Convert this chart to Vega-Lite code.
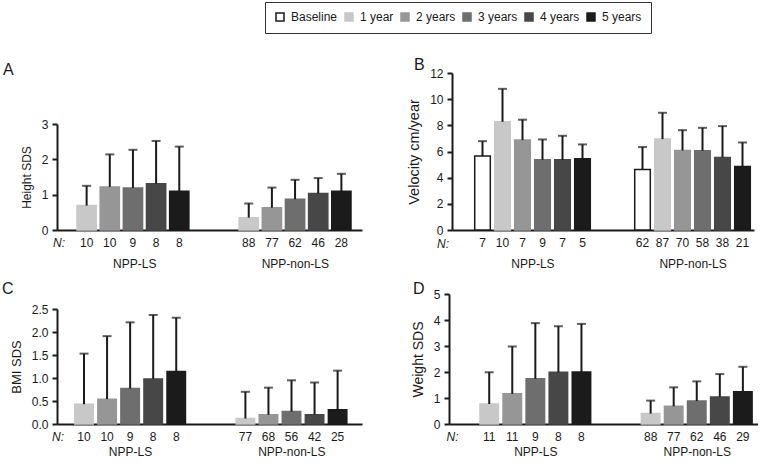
{
  "$schema": "https://vega.github.io/schema/vega-lite/v6.json",
  "padding": {"left": 2, "top": 1, "right": 0, "bottom": 0},
  "background": "white",
  "datasets": {
    "A": [
      {"group": "NPP-LS", "year": "1 year", "key": "LS1:10", "mean": 0.69, "upper": 1.25},
      {"group": "NPP-LS", "year": "2 years", "key": "LS2:10", "mean": 1.22, "upper": 2.14},
      {"group": "NPP-LS", "year": "3 years", "key": "LS3:9", "mean": 1.19, "upper": 2.27},
      {"group": "NPP-LS", "year": "4 years", "key": "LS4:8", "mean": 1.31, "upper": 2.52},
      {"group": "NPP-LS", "year": "5 years", "key": "LS5:8", "mean": 1.10, "upper": 2.36},
      {"group": "NPP-non-LS", "year": "1 year", "key": "NL1:88", "mean": 0.35, "upper": 0.75},
      {"group": "NPP-non-LS", "year": "2 years", "key": "NL2:77", "mean": 0.63, "upper": 1.20},
      {"group": "NPP-non-LS", "year": "3 years", "key": "NL3:62", "mean": 0.87, "upper": 1.42},
      {"group": "NPP-non-LS", "year": "4 years", "key": "NL4:46", "mean": 1.03, "upper": 1.47},
      {"group": "NPP-non-LS", "year": "5 years", "key": "NL5:28", "mean": 1.10, "upper": 1.59}
    ],
    "B": [
      {"group": "NPP-LS", "year": "Baseline", "key": "LS0:7", "mean": 5.65, "upper": 6.79},
      {"group": "NPP-LS", "year": "1 year", "key": "LS1:10", "mean": 8.27, "upper": 10.79},
      {"group": "NPP-LS", "year": "2 years", "key": "LS2:7", "mean": 6.87, "upper": 8.43},
      {"group": "NPP-LS", "year": "3 years", "key": "LS3:9", "mean": 5.37, "upper": 6.92},
      {"group": "NPP-LS", "year": "4 years", "key": "LS4:7", "mean": 5.37, "upper": 7.20},
      {"group": "NPP-LS", "year": "5 years", "key": "LS5:5", "mean": 5.45, "upper": 6.54},
      {"group": "NPP-non-LS", "year": "Baseline", "key": "NL0:62", "mean": 4.63, "upper": 6.34},
      {"group": "NPP-non-LS", "year": "1 year", "key": "NL1:87", "mean": 6.95, "upper": 8.96},
      {"group": "NPP-non-LS", "year": "2 years", "key": "NL2:70", "mean": 6.08, "upper": 7.63},
      {"group": "NPP-non-LS", "year": "3 years", "key": "NL3:58", "mean": 6.06, "upper": 7.81},
      {"group": "NPP-non-LS", "year": "4 years", "key": "NL4:38", "mean": 5.55, "upper": 7.94},
      {"group": "NPP-non-LS", "year": "5 years", "key": "NL5:21", "mean": 4.86, "upper": 6.69}
    ],
    "C": [
      {"group": "NPP-LS", "year": "1 year", "key": "LS1:10", "mean": 0.43, "upper": 1.53},
      {"group": "NPP-LS", "year": "2 years", "key": "LS2:10", "mean": 0.54, "upper": 1.91},
      {"group": "NPP-LS", "year": "3 years", "key": "LS3:9", "mean": 0.77, "upper": 2.21},
      {"group": "NPP-LS", "year": "4 years", "key": "LS4:8", "mean": 0.98, "upper": 2.37},
      {"group": "NPP-LS", "year": "5 years", "key": "LS5:8", "mean": 1.14, "upper": 2.31},
      {"group": "NPP-non-LS", "year": "1 year", "key": "NL1:77", "mean": 0.12, "upper": 0.70},
      {"group": "NPP-non-LS", "year": "2 years", "key": "NL2:68", "mean": 0.20, "upper": 0.79},
      {"group": "NPP-non-LS", "year": "3 years", "key": "NL3:56", "mean": 0.27, "upper": 0.95},
      {"group": "NPP-non-LS", "year": "4 years", "key": "NL4:42", "mean": 0.20, "upper": 0.90},
      {"group": "NPP-non-LS", "year": "5 years", "key": "NL5:25", "mean": 0.31, "upper": 1.16}
    ],
    "D": [
      {"group": "NPP-LS", "year": "1 year", "key": "LS1:11", "mean": 0.77, "upper": 1.99},
      {"group": "NPP-LS", "year": "2 years", "key": "LS2:11", "mean": 1.16, "upper": 2.98},
      {"group": "NPP-LS", "year": "3 years", "key": "LS3:9", "mean": 1.74, "upper": 3.88},
      {"group": "NPP-LS", "year": "4 years", "key": "LS4:8", "mean": 1.99, "upper": 3.76},
      {"group": "NPP-LS", "year": "5 years", "key": "LS5:8", "mean": 2.00, "upper": 3.85},
      {"group": "NPP-non-LS", "year": "1 year", "key": "NL1:88", "mean": 0.40, "upper": 0.90},
      {"group": "NPP-non-LS", "year": "2 years", "key": "NL2:77", "mean": 0.68, "upper": 1.41},
      {"group": "NPP-non-LS", "year": "3 years", "key": "NL3:62", "mean": 0.88, "upper": 1.64},
      {"group": "NPP-non-LS", "year": "4 years", "key": "NL4:46", "mean": 1.04, "upper": 1.92},
      {"group": "NPP-non-LS", "year": "5 years", "key": "NL5:29", "mean": 1.24, "upper": 2.20}
    ]
  },
  "config": {
    "view": {"stroke": null},
    "font": "Liberation Sans",
    "axis": {
      "domainColor": "#1a1a1a", "domainWidth": 2, "tickColor": "#1a1a1a", "tickWidth": 2, "tickSize": 5,
      "labelColor": "#1a1a1a", "titleColor": "#1a1a1a", "labelFontSize": 12, "titleFontSize": 13,
      "titleFontWeight": "normal", "grid": false, "labelFont": "Liberation Sans", "titleFont": "Liberation Sans", "labelPadding": 4, "titlePadding": 8, "labelOverlap": false
    },
    "title": {"fontSize": 16, "fontWeight": "normal", "anchor": "start", "frame": "group", "color": "#1a1a1a", "font": "Liberation Sans"},
    "legend": {
      "symbolType": "square", "symbolSize": 64, "symbolStrokeWidth": 1.5, "labelFontSize": 12, "labelColor": "#1a1a1a",
      "columnPadding": 4, "labelOffset": 5, "strokeColor": "#333333", "padding": 9, "labelFont": "Liberation Sans"
    }
  },
  "spacing": 10,
  "vconcat": [
    {
      "spacing": 44,
      "hconcat": [
        {
          "width": 305, "height": 157,
          "title": {"text": "A", "dx": -54, "offset": -5},
          "data": {"name": "A"},
          "layer": [
            {"layer": [
              {"mark": {"type": "bar", "strokeWidth": 1.5},
               "encoding": {
                 "x": {"field": "key", "type": "nominal",
                       "scale": {"domain": ["LS1:10", "LS2:10", "LS3:9", "LS4:8", "LS5:8", "g1", "g2", "NL1:88", "NL2:77", "NL3:62", "NL4:46", "NL5:28"], "paddingInner": 0.17, "paddingOuter": 0.67, "align": 0.645},
                       "axis": {"orient": "bottom", "title": "N:", "titleFontStyle": "italic", "titleFontSize": 12, "titleX": 1.5, "titleY": 7, "titleAlign": "center", "titleBaseline": "top", "labelExpr": "indexof(datum.value, ':') >= 0 ? split(datum.value, ':')[1] : ''", "ticks": false, "tickSize": 0, "labelPadding": 7, "labelAngle": 0, "labelOverlap": false}},
                 "y": {"field": "mean", "type": "quantitative", "title": "Height SDS", "scale": {"domain": [0, 3], "range": [157, 51], "nice": false}, "axis": {"values": [0, 1, 2, 3], "tickCount": 20, "format": "d", "titleFontSize": 12, "labelOverlap": false}},
                 "color": {"field": "year", "type": "nominal", "scale": {"domain": ["Baseline", "1 year", "2 years", "3 years", "4 years", "5 years"], "range": ["#ffffff", "#c8c8c8", "#969696", "#6e6e6e", "#474747", "#1b1b1b"]}, "legend": {"orient": "none", "legendX": 208, "legendY": -71, "direction": "horizontal", "title": null}},
                 "stroke": {"field": "year", "type": "nominal", "scale": {"domain": ["Baseline", "1 year", "2 years", "3 years", "4 years", "5 years"], "range": ["#1a1a1a", "#c8c8c8", "#969696", "#6e6e6e", "#474747", "#1b1b1b"]}, "legend": {"orient": "none", "legendX": 208, "legendY": -71, "direction": "horizontal", "title": null}}
               }},
              {"mark": {"type": "rule", "strokeWidth": 2, "color": "#1a1a1a"},
               "encoding": {"x": {"field": "key", "type": "nominal"}, "y": {"field": "mean", "type": "quantitative", "title": "Height SDS"}, "y2": {"field": "upper"}}},
              {"mark": {"type": "tick", "thickness": 2, "size": 9, "color": "#1a1a1a", "orient": "horizontal"},
               "encoding": {"x": {"field": "key", "type": "nominal"}, "y": {"field": "upper", "type": "quantitative", "title": "Height SDS"}}}
            ]},
            {"mark": {"type": "rule", "opacity": 0},
             "encoding": {"x": {"field": "group", "type": "nominal", "scale": {"type": "point", "padding": 0.45, "align": 0.535},
                                "axis": {"orient": "bottom", "title": null, "domain": false, "ticks": false, "tickSize": 0, "labelPadding": 28.5, "labelAngle": 0}}}}
          ],
          "resolve": {"scale": {"x": "independent"}}
        },
        {
          "width": 302, "height": 157,
          "title": {"text": "B", "dx": -38, "offset": -6},
          "data": {"name": "B"},
          "layer": [
            {"layer": [
              {"mark": {"type": "bar", "strokeWidth": 1.5},
               "encoding": {
                 "x": {"field": "key", "type": "nominal",
                       "scale": {"domain": ["LS0:7", "LS1:10", "LS2:7", "LS3:9", "LS4:7", "LS5:5", "g1", "g2", "NL0:62", "NL1:87", "NL2:70", "NL3:58", "NL4:38", "NL5:21"], "paddingInner": 0.22, "paddingOuter": 0.66, "align": 0.86},
                       "axis": {"orient": "bottom", "title": "N:", "titleFontStyle": "italic", "titleFontSize": 12, "titleX": -9.5, "titleY": 8, "titleAlign": "center", "titleBaseline": "top", "labelExpr": "indexof(datum.value, ':') >= 0 ? split(datum.value, ':')[1] : ''", "ticks": false, "tickSize": 0, "labelPadding": 7, "labelAngle": 0, "labelOverlap": false}},
                 "y": {"field": "mean", "type": "quantitative", "title": "Velocity cm/year", "scale": {"domain": [0, 12], "nice": false}, "axis": {"values": [0, 2, 4, 6, 8, 10, 12], "tickCount": 20, "format": "d", "titleFontSize": 14.5, "labelOverlap": false}},
                 "color": {"field": "year", "type": "nominal", "scale": {"domain": ["Baseline", "1 year", "2 years", "3 years", "4 years", "5 years"], "range": ["#ffffff", "#c8c8c8", "#969696", "#6e6e6e", "#474747", "#1b1b1b"]}, "legend": {"orient": "none", "legendX": 208, "legendY": -71, "direction": "horizontal", "title": null}},
                 "stroke": {"field": "year", "type": "nominal", "scale": {"domain": ["Baseline", "1 year", "2 years", "3 years", "4 years", "5 years"], "range": ["#1a1a1a", "#c8c8c8", "#969696", "#6e6e6e", "#474747", "#1b1b1b"]}, "legend": {"orient": "none", "legendX": 208, "legendY": -71, "direction": "horizontal", "title": null}}
               }},
              {"mark": {"type": "rule", "strokeWidth": 2, "color": "#1a1a1a"},
               "encoding": {"x": {"field": "key", "type": "nominal"}, "y": {"field": "mean", "type": "quantitative", "title": "Velocity cm/year"}, "y2": {"field": "upper"}}},
              {"mark": {"type": "tick", "thickness": 2, "size": 9, "color": "#1a1a1a", "orient": "horizontal"},
               "encoding": {"x": {"field": "key", "type": "nominal"}, "y": {"field": "upper", "type": "quantitative", "title": "Velocity cm/year"}}}
            ]},
            {"mark": {"type": "rule", "opacity": 0},
             "encoding": {"x": {"field": "group", "type": "nominal", "scale": {"type": "point", "padding": 0.443, "align": 0.567},
                                "axis": {"orient": "bottom", "title": null, "domain": false, "ticks": false, "tickSize": 0, "labelPadding": 28.5, "labelAngle": 0}}}}
          ],
          "resolve": {"scale": {"x": "independent"}}
        }
      ]
    },
    {
      "spacing": 49,
      "hconcat": [
        {
          "width": 305, "height": 130,
          "title": {"text": "C", "dx": -55, "offset": -2.5},
          "data": {"name": "C"},
          "layer": [
            {"layer": [
              {"mark": {"type": "bar", "strokeWidth": 1.5},
               "encoding": {
                 "x": {"field": "key", "type": "nominal",
                       "scale": {"domain": ["LS1:10", "LS2:10", "LS3:9", "LS4:8", "LS5:8", "g1", "g2", "NL1:77", "NL2:68", "NL3:56", "NL4:42", "NL5:25"], "paddingInner": 0.2, "paddingOuter": 0.715, "align": 0.54},
                       "axis": {"orient": "bottom", "title": "N:", "titleFontStyle": "italic", "titleFontSize": 12, "titleX": 0.5, "titleY": 7, "titleAlign": "center", "titleBaseline": "top", "labelExpr": "indexof(datum.value, ':') >= 0 ? split(datum.value, ':')[1] : ''", "ticks": false, "tickSize": 0, "labelPadding": 7, "labelAngle": 0, "labelOverlap": false}},
                 "y": {"field": "mean", "type": "quantitative", "title": "BMI SDS", "scale": {"domain": [0, 2.5], "range": [130, 15], "nice": false}, "axis": {"values": [0, 0.5, 1, 1.5, 2, 2.5], "tickCount": 20, "format": ".1f", "titleFontSize": 13, "labelOverlap": false}},
                 "color": {"field": "year", "type": "nominal", "scale": {"domain": ["Baseline", "1 year", "2 years", "3 years", "4 years", "5 years"], "range": ["#ffffff", "#c8c8c8", "#969696", "#6e6e6e", "#474747", "#1b1b1b"]}, "legend": {"orient": "none", "legendX": 208, "legendY": -71, "direction": "horizontal", "title": null}},
                 "stroke": {"field": "year", "type": "nominal", "scale": {"domain": ["Baseline", "1 year", "2 years", "3 years", "4 years", "5 years"], "range": ["#1a1a1a", "#c8c8c8", "#969696", "#6e6e6e", "#474747", "#1b1b1b"]}, "legend": {"orient": "none", "legendX": 208, "legendY": -71, "direction": "horizontal", "title": null}}
               }},
              {"mark": {"type": "rule", "strokeWidth": 2, "color": "#1a1a1a"},
               "encoding": {"x": {"field": "key", "type": "nominal"}, "y": {"field": "mean", "type": "quantitative", "title": "BMI SDS"}, "y2": {"field": "upper"}}},
              {"mark": {"type": "tick", "thickness": 2, "size": 9, "color": "#1a1a1a", "orient": "horizontal"},
               "encoding": {"x": {"field": "key", "type": "nominal"}, "y": {"field": "upper", "type": "quantitative", "title": "BMI SDS"}}}
            ]},
            {"mark": {"type": "rule", "opacity": 0},
             "encoding": {"x": {"field": "group", "type": "nominal", "scale": {"type": "point", "padding": 0.445, "align": 0.508},
                                "axis": {"orient": "bottom", "title": null, "domain": false, "ticks": false, "tickSize": 0, "labelPadding": 22, "labelAngle": 0}}}}
          ],
          "resolve": {"scale": {"x": "independent"}}
        },
        {
          "width": 309, "height": 130,
          "title": {"text": "D", "dx": -36, "offset": -9},
          "data": {"name": "D"},
          "layer": [
            {"layer": [
              {"mark": {"type": "bar", "strokeWidth": 1.5},
               "encoding": {
                 "x": {"field": "key", "type": "nominal",
                       "scale": {"domain": ["LS1:11", "LS2:11", "LS3:9", "LS4:8", "LS5:8", "g1", "g2", "NL1:88", "NL2:77", "NL3:62", "NL4:46", "NL5:29"], "paddingInner": 0.2, "paddingOuter": 0.8, "align": 0.84},
                       "axis": {"orient": "bottom", "title": "N:", "titleFontStyle": "italic", "titleFontSize": 12, "titleX": 3, "titleY": 7, "titleAlign": "center", "titleBaseline": "top", "labelExpr": "indexof(datum.value, ':') >= 0 ? split(datum.value, ':')[1] : ''", "ticks": false, "tickSize": 0, "labelPadding": 7, "labelAngle": 0, "labelOverlap": false}},
                 "y": {"field": "mean", "type": "quantitative", "title": "Weight SDS", "scale": {"domain": [0, 5], "nice": false}, "axis": {"values": [0, 1, 2, 3, 4, 5], "tickCount": 20, "format": "d", "titleFontSize": 14, "labelOverlap": false}},
                 "color": {"field": "year", "type": "nominal", "scale": {"domain": ["Baseline", "1 year", "2 years", "3 years", "4 years", "5 years"], "range": ["#ffffff", "#c8c8c8", "#969696", "#6e6e6e", "#474747", "#1b1b1b"]}, "legend": {"orient": "none", "legendX": 208, "legendY": -71, "direction": "horizontal", "title": null}},
                 "stroke": {"field": "year", "type": "nominal", "scale": {"domain": ["Baseline", "1 year", "2 years", "3 years", "4 years", "5 years"], "range": ["#1a1a1a", "#c8c8c8", "#969696", "#6e6e6e", "#474747", "#1b1b1b"]}, "legend": {"orient": "none", "legendX": 208, "legendY": -71, "direction": "horizontal", "title": null}}
               }},
              {"mark": {"type": "rule", "strokeWidth": 2, "color": "#1a1a1a"},
               "encoding": {"x": {"field": "key", "type": "nominal"}, "y": {"field": "mean", "type": "quantitative", "title": "Weight SDS"}, "y2": {"field": "upper"}}},
              {"mark": {"type": "tick", "thickness": 2, "size": 9, "color": "#1a1a1a", "orient": "horizontal"},
               "encoding": {"x": {"field": "key", "type": "nominal"}, "y": {"field": "upper", "type": "quantitative", "title": "Weight SDS"}}}
            ]},
            {"mark": {"type": "rule", "opacity": 0},
             "encoding": {"x": {"field": "group", "type": "nominal", "scale": {"type": "point", "padding": 0.457, "align": 0.585},
                                "axis": {"orient": "bottom", "title": null, "domain": false, "ticks": false, "tickSize": 0, "labelPadding": 22, "labelAngle": 0}}}}
          ],
          "resolve": {"scale": {"x": "independent"}}
        }
      ]
    }
  ]
}
